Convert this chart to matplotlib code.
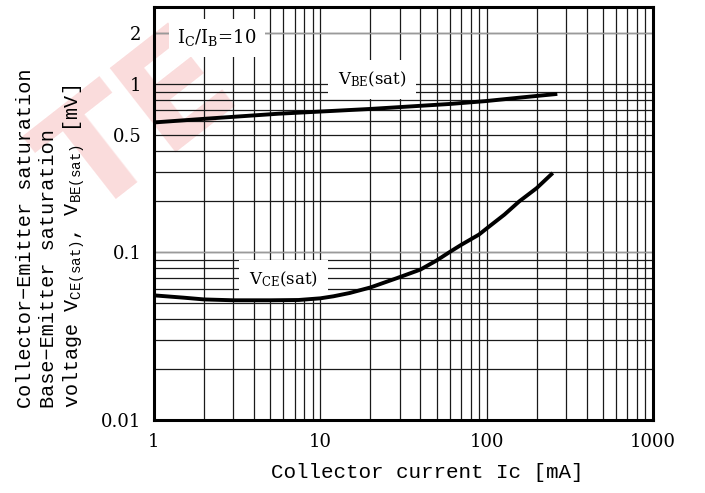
import matplotlib
matplotlib.use("Agg")
import matplotlib.pyplot as plt
from matplotlib.ticker import LogLocator, NullFormatter, FixedLocator, FixedFormatter

# collector current [mA]
vbe_ic = [1, 2, 5.6, 10, 20, 39, 60, 98, 160, 259]
vbe_v = [0.59, 0.62, 0.665, 0.685, 0.71, 0.74, 0.76, 0.79, 0.83, 0.87]

vce_ic = [1, 1.5, 2, 3, 5, 7.4, 10, 12, 15, 20, 29, 40, 50, 60, 70, 90, 100, 128, 157, 200, 245]
vce_v = [0.0552, 0.0535, 0.0522, 0.0516, 0.0516, 0.0518, 0.053, 0.0545, 0.057, 0.0615, 0.070,
         0.0786, 0.089, 0.100, 0.110, 0.127, 0.138, 0.167, 0.200, 0.240, 0.290]

y_ticks = [0.01, 0.1, 0.5, 1, 2]
y_tick_labels = ["0.01", "0.1", "0.5", "1", "2"]
x_ticks = [1, 10, 100, 1000]
x_tick_labels = ["1", "10", "100", "1000"]

SERIF = "DejaVu Serif"
MONO = "Liberation Mono"

plt.rcParams["mathtext.fontset"] = "custom"
plt.rcParams["mathtext.rm"] = SERIF

fig = plt.figure(figsize=(7.05, 4.93), dpi=100)
ax = fig.add_axes([0.2184, 0.148, 0.7078, 0.8378])
ax.patch.set_alpha(0)

# faint watermark behind the chart
fig.text(0.2, 0.74, "TE", fontsize=105, fontweight="bold", color="#f08a8a",
         alpha=0.3, rotation=38, ha="center", va="center", zorder=-5)

ax.set_xscale("log")
ax.set_yscale("log")
ax.set_xlim(1, 1000)
ax.set_ylim(0.01, 2.87)

ax.grid(True, which="both", color="#1a1a1a", linewidth=0.9)
ax.axhline(0.1, color="#9a9a9a", linewidth=1.0, zorder=1.5)
ax.axhline(2, color="#9a9a9a", linewidth=1.0, zorder=1.5)
ax.set_axisbelow(True)

ax.plot(vbe_ic, vbe_v, color="black", linewidth=2.8, zorder=4)
ax.plot(vce_ic, vce_v, color="black", linewidth=2.8, zorder=4)

ax.yaxis.set_major_locator(FixedLocator(y_ticks))
ax.yaxis.set_major_formatter(FixedFormatter(y_tick_labels))
ax.yaxis.set_minor_locator(LogLocator(base=10, subs=range(2, 10)))
ax.yaxis.set_minor_formatter(NullFormatter())
ax.xaxis.set_major_locator(FixedLocator(x_ticks))
ax.xaxis.set_major_formatter(FixedFormatter(x_tick_labels))
ax.xaxis.set_minor_locator(LogLocator(base=10, subs=range(2, 10)))
ax.xaxis.set_minor_formatter(NullFormatter())
ax.tick_params(which="both", length=0, labelsize=13, pad=9)
for lab in ax.get_xticklabels() + ax.get_yticklabels():
    lab.set_family(SERIF)

for side in ax.spines.values():
    side.set_linewidth(2.2)
    side.set_color("black")

ax.text(1.38, 1.88, r"I$\mathregular{_C}$/I$\mathregular{_B}$=10", fontsize=13,
        family=SERIF, ha="left", va="center",
        bbox=dict(facecolor="white", edgecolor="none", pad=6), zorder=3)
ax.text(20.5, 1.06, r"V$\mathregular{_{BE}}$(sat)", fontsize=12,
        family=SERIF, ha="center", va="center",
        bbox=dict(facecolor="white", edgecolor="none", pad=7), zorder=3)
ax.text(6.0, 0.0687, r"V$\mathregular{_{CE}}$(sat)", fontsize=12,
        family=SERIF, ha="center", va="center",
        bbox=dict(facecolor="white", edgecolor="none", pad=7), zorder=3)

ax.set_xlabel("Collector current Ic [mA]", family=MONO, fontsize=15)
ax.xaxis.set_label_coords(0.547, -0.105)

ax.text(-0.205, 0.03,
        "Collector\u2212Emitter saturation\n"
        "Base\u2212Emitter saturation\n"
        r"voltage V$\mathregular{_{CE(sat)}}$, V$\mathregular{_{BE(sat)}}$ [mV]",
        transform=ax.transAxes, rotation=90, ha="center", va="bottom",
        multialignment="left", family=MONO, fontsize=14.5, linespacing=1.25)

fig.savefig("out.png", dpi=100)
